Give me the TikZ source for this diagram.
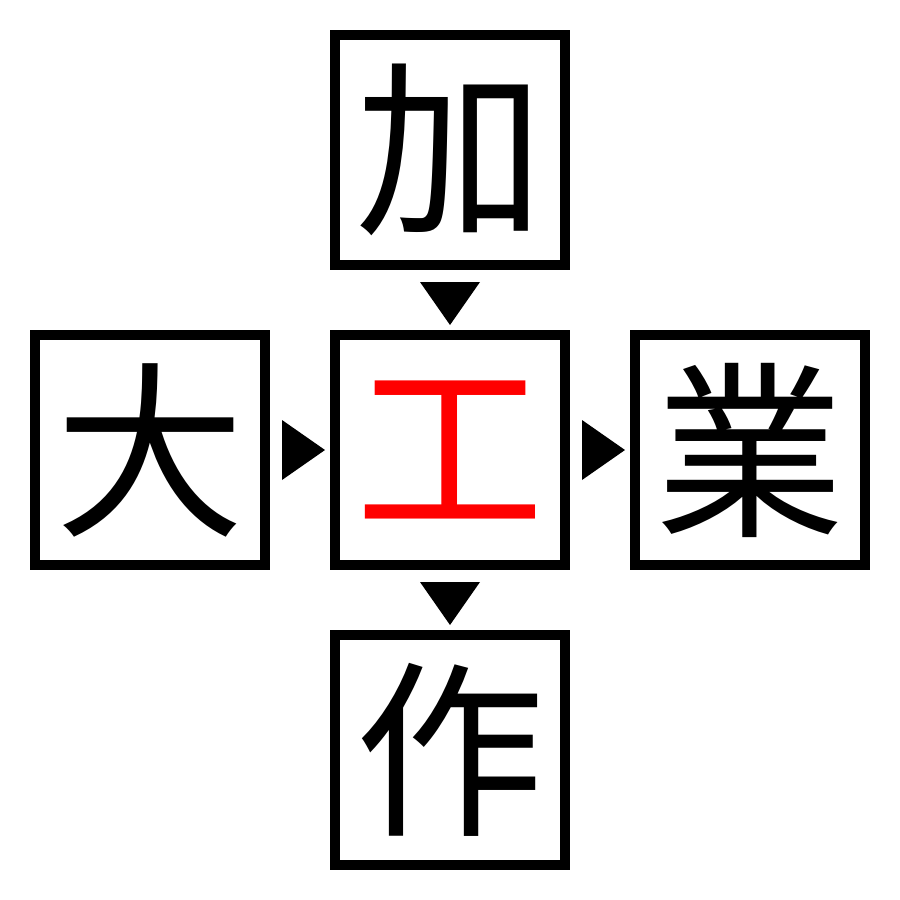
\documentclass[tikz,border=0pt]{standalone}
\usepackage{fontspec}
\newfontfamily\cjk{Noto Sans CJK JP}
\usetikzlibrary{calc}
\tikzset{
  kbox/.style={draw=black, line width=10bp, minimum width=230bp, minimum height=230bp, inner sep=0pt, font=\cjk\fontsize{190}{190}\selectfont},
  tri/.style={fill=black}
}
\begin{document}
\begin{tikzpicture}[x=1bp,y=-1bp]
\useasboundingbox[fill=white] (0,0) rectangle (900,900);
\node[kbox] (top) at (450,150) {加};
\node[kbox] (left) at (150,450) {大};
\node[kbox, text=red] (center) at (450,450) {工};
\node[kbox] (right) at (750,450) {業};
\node[kbox] (bottom) at (450,750) {作};
% arrowheads between boxes
\fill[tri] ($(top.south)+(-30,12)$) -- ($(top.south)+(30,12)$) -- ($(center.north)+(0,-5)$) -- cycle;
\fill[tri] ($(center.south)+(-30,12)$) -- ($(center.south)+(30,12)$) -- ($(bottom.north)+(0,-5)$) -- cycle;
\fill[tri] ($(left.east)+(12,-30)$) -- ($(left.east)+(12,30)$) -- ($(center.west)+(-5,0)$) -- cycle;
\fill[tri] ($(center.east)+(12,-30)$) -- ($(center.east)+(12,30)$) -- ($(right.west)+(-5,0)$) -- cycle;
\end{tikzpicture}
\end{document}
